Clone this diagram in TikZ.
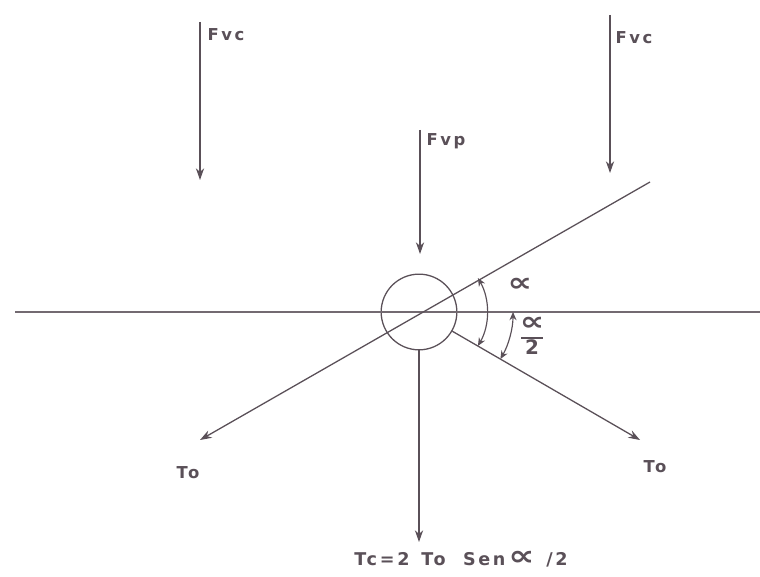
\documentclass[tikz,border=0pt]{standalone}
\usepackage{graphicx}
\usepackage{fontspec}
\setmainfont[LetterSpace=15]{DejaVu Sans}
\usetikzlibrary{arrows.meta,positioning,calc}
\definecolor{ink}{RGB}{90,80,88}
\newcommand{\prop}{\scalebox{2.1}[1.6]{∝}}

\begin{document}
\begin{tikzpicture}[x=0.3mm, y=0.3mm,
  lbl/.style={font=\bfseries\fontsize{14}{16}\selectfont, text=ink, inner sep=1pt},
  arr/.style={-{Stealth[length=10pt, width=7pt]}, ink, line width=1.1pt},
  angarr/.style={{Stealth[length=7pt, width=6pt]}-{Stealth[length=7pt, width=6pt]}, ink, line width=1pt},
  ln/.style={ink!85, line width=1pt}]
\useasboundingbox (0,0) rectangle (760,576);
\coordinate (c) at (419,264);
\node[circle, draw=ink, line width=1.1pt, minimum size=64.6pt, inner sep=0pt] (hub) at (c) {};
% cable lines
\coordinate (hl) at (15,264);
\coordinate (hr) at (760,264);
\coordinate (up) at (650,394);
\coordinate (tol) at (200,136);
\coordinate (tor) at (640,136);
\coordinate (tcb) at (419,34);
\draw[ln] (hl) -- (hr);
\draw[arr] (up) -- (tol);
\draw[arr] (hub.-30) -- (tor);
\draw[arr] (hub.south) -- (tcb);
% vertical loads
\coordinate (fvcLa) at (200,554); \coordinate (fvcLb) at (200,396);
\coordinate (fvcRa) at (610,561); \coordinate (fvcRb) at (610,403);
\coordinate (fvpa) at (420,446);  \coordinate (fvpb) at (420,322);
\draw[arr] (fvcLa) -- (fvcLb);
\draw[arr] (fvcRa) -- (fvcRb);
\draw[arr] (fvpa) -- (fvpb);
% angles
\draw[angarr] ($(c)+(30:20.4mm)$) arc[start angle=30, end angle=-30, radius=20.4mm];
\draw[angarr] ($(c)+(0:28.2mm)$) arc[start angle=0, end angle=-30, radius=28.2mm];
% labels
\node[lbl] (fvcL) at (226,541) {Fvc};
\node[lbl] (fvcR) at (634,538) {Fvc};
\node[lbl] (fvp) at (446,435) {Fvp};
\node[lbl] (toL) at (188,103) {To};
\node[lbl] (toR) at (655,109) {To};
\node[lbl, font=\bfseries\fontsize{15}{17}\selectfont] (tc) at (461,17)
  {Tc\,=2\,\ To\ \ Sen\,\prop\,\ /2};
\node[lbl] (alpha) at (520,291) {\prop};
\node[lbl, align=center] (half) at (532,240) {\prop\\[-9pt]\rule{18pt}{1.4pt}\\[-2pt]\fontsize{17}{17}\selectfont 2};
\end{tikzpicture}
\end{document}
